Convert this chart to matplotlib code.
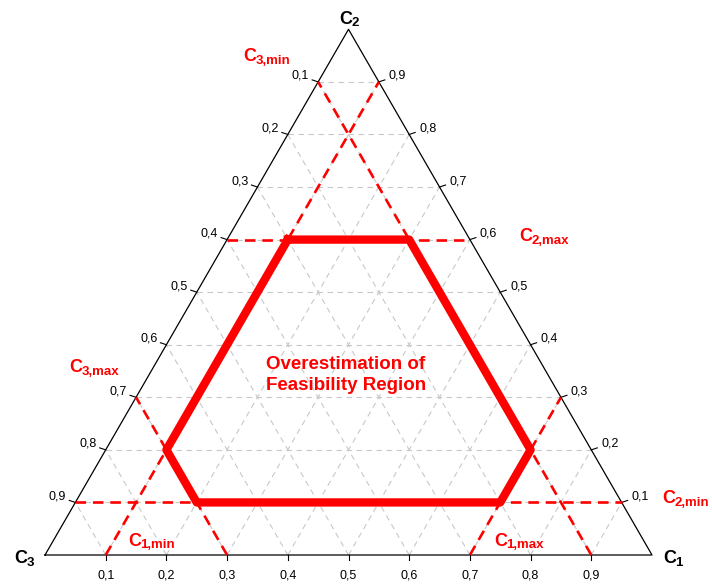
import matplotlib
matplotlib.use('Agg')
import matplotlib.pyplot as plt
import numpy as np

plt.rcParams['font.family'] = ['Liberation Sans', 'DejaVu Sans']

# composition limits (fractions)
c1_lim = [0.1, 0.7]
c2_lim = [0.1, 0.6]
c3_lim = [0.1, 0.7]
tick_vals = [0.1, 0.2, 0.3, 0.4, 0.5, 0.6, 0.7, 0.8, 0.9]
tick_text = ['0,1', '0,2', '0,3', '0,4', '0,5', '0,6', '0,7', '0,8', '0,9']

H = np.sqrt(3) / 2
S = 607.0          # side length in pixels
RED = '#ff0000'


def xy(c1, c2):
    return c1 + c2 / 2, c2 * H


def px(x, y):
    # pixel position (from top-left) -> data coords
    return (x - 45) / S, (555 - y) / S


fig = plt.figure(figsize=(7.12, 5.88), dpi=100)
ax = fig.add_axes([0, 0, 1, 1])
ax.set_xlim(-45 / S, 667 / S)
ax.set_ylim(-33 / S, 555 / S)
ax.axis('off')

# grid lines for the three families
for v in tick_vals:
    segs = [((v, 0), (v, 1 - v)),          # constant C1
            ((0, v), (1 - v, v)),          # constant C2
            ((1 - v, 0), (0, 1 - v))]      # constant C3
    for (a1, a2), (b1, b2) in segs:
        p, q = xy(a1, a2), xy(b1, b2)
        ax.plot([p[0], q[0]], [p[1], q[1]], color='#c8c8c8', lw=0.8,
                ls=(0, (5, 4)), zorder=1)

# triangle outline
tri = [xy(0, 0), xy(1, 0), xy(0, 1), xy(0, 0)]
ax.plot([p[0] for p in tri], [p[1] for p in tri], color='black', lw=0.9, zorder=3)

# ticks and labels
for v, s in zip(tick_vals, tick_text):
    # bottom axis: C1
    x, y = xy(v, 0)
    ax.plot([x, x], [y, y - 5 / S], color='black', lw=0.8, zorder=3)
    ax.annotate(s, (x, y), xytext=(0, -20), textcoords='offset pixels',
                ha='center', va='center', fontsize=9)
    # left axis: C3
    x, y = xy(0, 1 - v)
    ax.plot([x, x - 6 / S], [y, y + 2 / S], color='black', lw=0.8, zorder=3)
    ax.annotate(s, (x, y), xytext=(-9, 6), textcoords='offset pixels',
                ha='right', va='center', fontsize=9)
    # right axis: C2
    x, y = xy(1 - v, v)
    ax.plot([x, x + 6 / S], [y, y + 2 / S], color='black', lw=0.8, zorder=3)
    ax.annotate(s, (x, y), xytext=(10, 6), textcoords='offset pixels',
                ha='left', va='center', fontsize=9)

# constraint lines
lines = [((c1_lim[0], 0), (c1_lim[0], 1 - c1_lim[0])),
         ((c1_lim[1], 0), (c1_lim[1], 1 - c1_lim[1])),
         ((0, c2_lim[0]), (1 - c2_lim[0], c2_lim[0])),
         ((0, c2_lim[1]), (1 - c2_lim[1], c2_lim[1])),
         ((1 - c3_lim[0], 0), (0, 1 - c3_lim[0])),
         ((1 - c3_lim[1], 0), (0, 1 - c3_lim[1]))]
for (a1, a2), (b1, b2) in lines:
    p, q = xy(a1, a2), xy(b1, b2)
    ax.plot([p[0], q[0]], [p[1], q[1]], color=RED, lw=1.9,
            ls=(0, (4, 2.6)), zorder=4)

# feasibility hexagon from the limits
c1a, c1b = c1_lim
c2a, c2b = c2_lim
c3a, c3b = c3_lim
hexv = [(c1a, c2b), (1 - c2b - c3a, c2b), (c1b, 1 - c1b - c3a),
        (c1b, c2a), (1 - c2a - c3b, c2a), (c1a, 1 - c1a - c3b), (c1a, c2b)]
hx, hy = zip(*[xy(a, b) for a, b in hexv])
ax.plot(hx, hy, color=RED, lw=6.0, solid_joinstyle='round', zorder=5)

ax.text(*px(346, 375), 'Overestimation of\nFeasibility Region', color=RED,
        fontsize=13.5, fontweight='bold', ha='center', va='center',
        linespacing=1.32, zorder=6)


def clabel(left, base, sub, color):
    x, y = px(left, base)
    ax.text(x, y, 'C', fontsize=13, fontweight='bold', color=color,
            ha='left', va='baseline', zorder=7)
    ax.annotate(sub, (x, y), xytext=(12.5, -2.5), textcoords='offset pixels',
                fontsize=9.5, fontweight='bold', color=color,
                ha='left', va='baseline', zorder=7)


# vertex labels
clabel(14, 563, '3', 'black')
clabel(663, 563, '1', 'black')
clabel(339, 24, '2', 'black')

# limit labels
clabel(243, 61, '3,min', RED)
clabel(519, 241.5, '2,max', RED)
clabel(69, 372.5, '3,max', RED)
clabel(662, 503, '2,min', RED)
clabel(128, 545.5, '1,min', RED)
clabel(494, 546, '1,max', RED)

fig.savefig('out.png', dpi=100)
